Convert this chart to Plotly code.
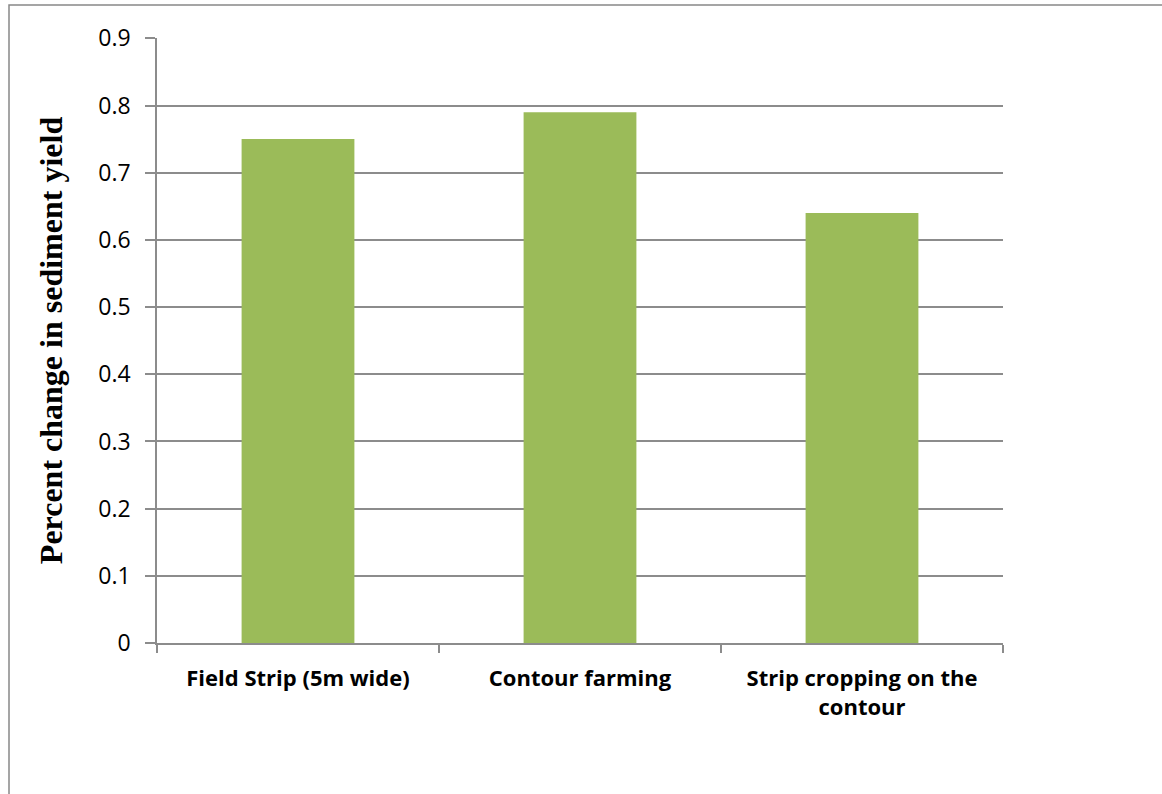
import plotly.graph_objects as go

categories = ["Field Strip (5m wide)", "Contour farming", "Strip cropping on the<br>contour"]
values = [0.75, 0.79, 0.64]
y_ticks = [0, 0.1, 0.2, 0.3, 0.4, 0.5, 0.6, 0.7, 0.8, 0.9]
y_title = "Percent change in sediment yield"

W, H = 1162, 794
L, R, T, B = 157, 1003, 38, 643
pw, ph = R - L, B - T

fig = go.Figure()
fig.add_trace(go.Bar(x=categories, y=values, marker=dict(color="#9BBB59", line=dict(width=0)),
                     width=0.4))

grid = "#8c8c8c"
fig.update_layout(
    width=W, height=H,
    margin=dict(l=L, r=W - R, t=T, b=H - B, pad=0),
    paper_bgcolor="white", plot_bgcolor="white",
    showlegend=False,
    xaxis=dict(
        type="category", tickson="boundaries", ticks="outside", ticklen=8, tickcolor=grid,
        tickwidth=1.5,
        showline=True, linecolor=grid, linewidth=1.5, showgrid=False,
        tickfont=dict(family="Open Sans", size=22, color="black", weight="bold"),
        ticklabelstandoff=15,
        range=[-0.5, 2.5],
    ),
    yaxis=dict(
        range=[0, 0.9005], tickvals=y_ticks, ticktext=[f"{v:g}" for v in y_ticks],
        ticks="outside", ticklen=10, tickcolor=grid, tickwidth=1.5,
        showline=True, linecolor=grid, linewidth=1.5,
        showgrid=True, gridcolor=grid, gridwidth=1.5, zeroline=False,
        tickfont=dict(family="Open Sans", size=23, color="black"),
        ticklabelstandoff=10,
        title=dict(text=y_title, font=dict(family="Liberation Serif", size=32, color="black", weight="bold"),
                   standoff=26),
    ),
    shapes=[dict(type="rect", xref="paper", yref="paper",
                 x0=(9 - L) / pw, x1=(1175 - L) / pw,
                 y0=(B - 810) / ph, y1=(B - 5) / ph,
                 line=dict(color="#888888", width=1.5), fillcolor="rgba(0,0,0,0)", layer="below")],
)

fig.write_html("out.html")
